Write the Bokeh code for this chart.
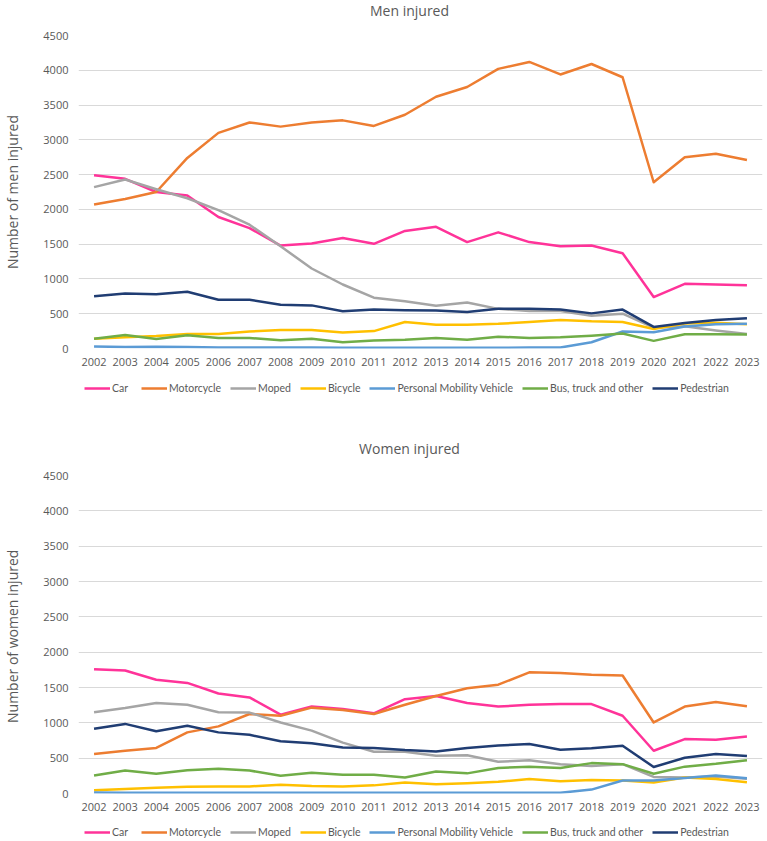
from bokeh.plotting import figure
from bokeh.models import FactorRange, Range1d, Legend, LegendItem, Label
from bokeh.layouts import column
from bokeh.embed import file_html
from bokeh.resources import INLINE

# categories
years = ["2002", "2003", "2004", "2005", "2006", "2007", "2008", "2009", "2010", "2011", "2012",
         "2013", "2014", "2015", "2016", "2017", "2018", "2019", "2020", "2021", "2022", "2023"]
y_ticks = [0, 500, 1000, 1500, 2000, 2500, 3000, 3500, 4000, 4500]

names = ["Car", "Motorcycle", "Moped", "Bicycle", "Personal Mobility Vehicle",
         "Bus, truck and other", "Pedestrian"]
colors = ["#ff3399", "#ed7d31", "#a5a5a5", "#ffc000", "#5b9bd5", "#70ad47", "#203d73"]

# men injured
men_car = [2490, 2440, 2250, 2200, 1890, 1730, 1480, 1510, 1590, 1505, 1690,
           1750, 1530, 1670, 1530, 1470, 1480, 1370, 740, 930, 920, 910]
men_moto = [2070, 2150, 2250, 2740, 3100, 3250, 3190, 3250, 3280, 3200, 3360,
            3620, 3760, 4020, 4120, 3940, 4090, 3900, 2390, 2750, 2800, 2710]
men_moped = [2320, 2430, 2290, 2160, 1990, 1780, 1470, 1150, 920, 730, 680,
             615, 660, 570, 540, 540, 470, 500, 300, 320, 260, 210]
men_bicycle = [140, 160, 180, 210, 210, 245, 265, 265, 230, 250, 380,
               340, 340, 355, 380, 410, 390, 380, 280, 360, 370, 350]
men_pmv = [30, 20, 25, 20, 15, 15, 15, 15, 10, 10, 10,
           10, 10, 10, 15, 15, 90, 245, 235, 315, 350, 355]
men_bus = [140, 195, 135, 190, 150, 150, 120, 140, 90, 115, 125,
           150, 125, 170, 150, 160, 185, 215, 110, 205, 205, 200]
men_ped = [750, 790, 780, 815, 700, 700, 630, 620, 535, 560, 550,
           545, 525, 570, 570, 560, 505, 560, 310, 365, 410, 435]

# women injured
women_car = [1760, 1740, 1610, 1565, 1415, 1360, 1115, 1230, 1195, 1135, 1335,
             1380, 1280, 1230, 1255, 1265, 1265, 1100, 605, 770, 760, 805]
women_moto = [560, 605, 645, 865, 950, 1125, 1100, 1215, 1180, 1125, 1255,
              1380, 1490, 1540, 1715, 1705, 1680, 1670, 1005, 1230, 1295, 1235]
women_moped = [1150, 1210, 1280, 1255, 1150, 1145, 1005, 890, 720, 590, 590,
               535, 540, 450, 470, 415, 390, 415, 235, 225, 240, 210]
women_bicycle = [45, 65, 80, 95, 100, 100, 125, 105, 100, 115, 155,
                 130, 145, 165, 205, 175, 190, 185, 155, 225, 205, 160]
women_pmv = [15, 10, 10, 10, 10, 10, 10, 10, 10, 10, 10,
             10, 10, 10, 10, 10, 55, 185, 185, 220, 255, 215]
women_bus = [255, 325, 280, 330, 350, 325, 250, 295, 265, 265, 225,
             310, 285, 360, 380, 360, 430, 415, 280, 380, 420, 470]
women_ped = [915, 985, 880, 960, 865, 830, 740, 710, 650, 645, 615,
             595, 645, 680, 700, 620, 640, 675, 375, 505, 560, 530]

men = [men_car, men_moto, men_moped, men_bicycle, men_pmv, men_bus, men_ped]
women = [women_car, women_moto, women_moped, women_bicycle, women_pmv, women_bus, women_ped]

GREY = "#595959"
FONT = "Open Sans"
W = 767
FRAME_LEFT = 74   # the column lines up every frame at this x


def make_chart(ylabel, series, height):
    p = figure(x_range=FactorRange(*years), y_range=Range1d(0, 4500),
               width=W, height=height, output_backend="svg", toolbar_location=None,
               min_border_left=FRAME_LEFT, min_border_right=5, min_border_top=8,
               min_border_bottom=24)
    p.outline_line_color = None

    p.yaxis.ticker = y_ticks
    p.yaxis.axis_label = ylabel
    p.yaxis.axis_label_standoff = 18
    p.yaxis.axis_label_text_font = FONT
    p.yaxis.axis_label_text_font_size = "14px"
    p.yaxis.axis_label_text_font_style = "normal"
    p.yaxis.axis_label_text_color = GREY
    p.yaxis.major_label_standoff = 10
    for ax in (p.xaxis, p.yaxis):
        ax.axis_line_color = None
        ax.major_tick_line_color = None
        ax.minor_tick_line_color = None
        ax.major_tick_out = 0
        ax.major_label_text_font = FONT
        ax.major_label_text_font_size = "11px"
        ax.major_label_text_color = GREY
    p.xaxis.major_label_standoff = 9

    p.xgrid.grid_line_color = None
    p.ygrid.ticker = y_ticks
    p.ygrid.grid_line_color = "#d9d9d9"
    p.ygrid.grid_line_width = 1

    for vals, color in zip(series, colors):
        p.line(years, vals, color=color, line_width=2.5, line_join="round")
    return p


def make_strip(height, series=None, legend_y=None, title=None, title_y=None):
    # thin blank figure holding a legend and / or a chart title
    s = figure(width=W, height=height, x_range=FactorRange(*years), y_range=Range1d(-2, -1),
               x_axis_type=None, y_axis_type=None, output_backend="svg",
               toolbar_location=None, min_border=0)
    s.outline_line_color = None
    s.xgrid.visible = False
    s.ygrid.visible = False
    if series is not None:
        # same series again, kept out of view, only so the legend has its line samples
        items = []
        for name, vals, color in zip(names, series, colors):
            r = s.line(years, vals, color=color, line_width=2.5)
            items.append(LegendItem(label=name, renderers=[r]))
        legend = Legend(items=items, orientation="horizontal",
                        location=(80 - FRAME_LEFT, legend_y),
                        glyph_width=26, glyph_height=14, label_height=14, label_standoff=2,
                        spacing=9, padding=0, margin=0, border_line_color=None,
                        background_fill_alpha=0, label_text_font="Lato",
                        label_text_font_size="10.5px", label_text_color=GREY)
        s.add_layout(legend)
    if title is not None:
        s.add_layout(Label(x=405 - FRAME_LEFT, y=title_y, x_units="screen", y_units="screen",
                           text=title, text_align="center", text_baseline="middle",
                           text_font=FONT, text_font_size="14px", text_color=GREY))
    return s


t1 = make_strip(27, title="Men injured", title_y=17)
p1 = make_chart("Number of men injured", men, 345)
mid = make_strip(95, series=men, legend_y=72, title="Women injured", title_y=19)
p2 = make_chart("Number of  women injured", women, 350)
bot = make_strip(24, series=women, legend_y=2)

page = column(t1, p1, mid, p2, bot)
open("out.html", "w").write(file_html(page, INLINE))
